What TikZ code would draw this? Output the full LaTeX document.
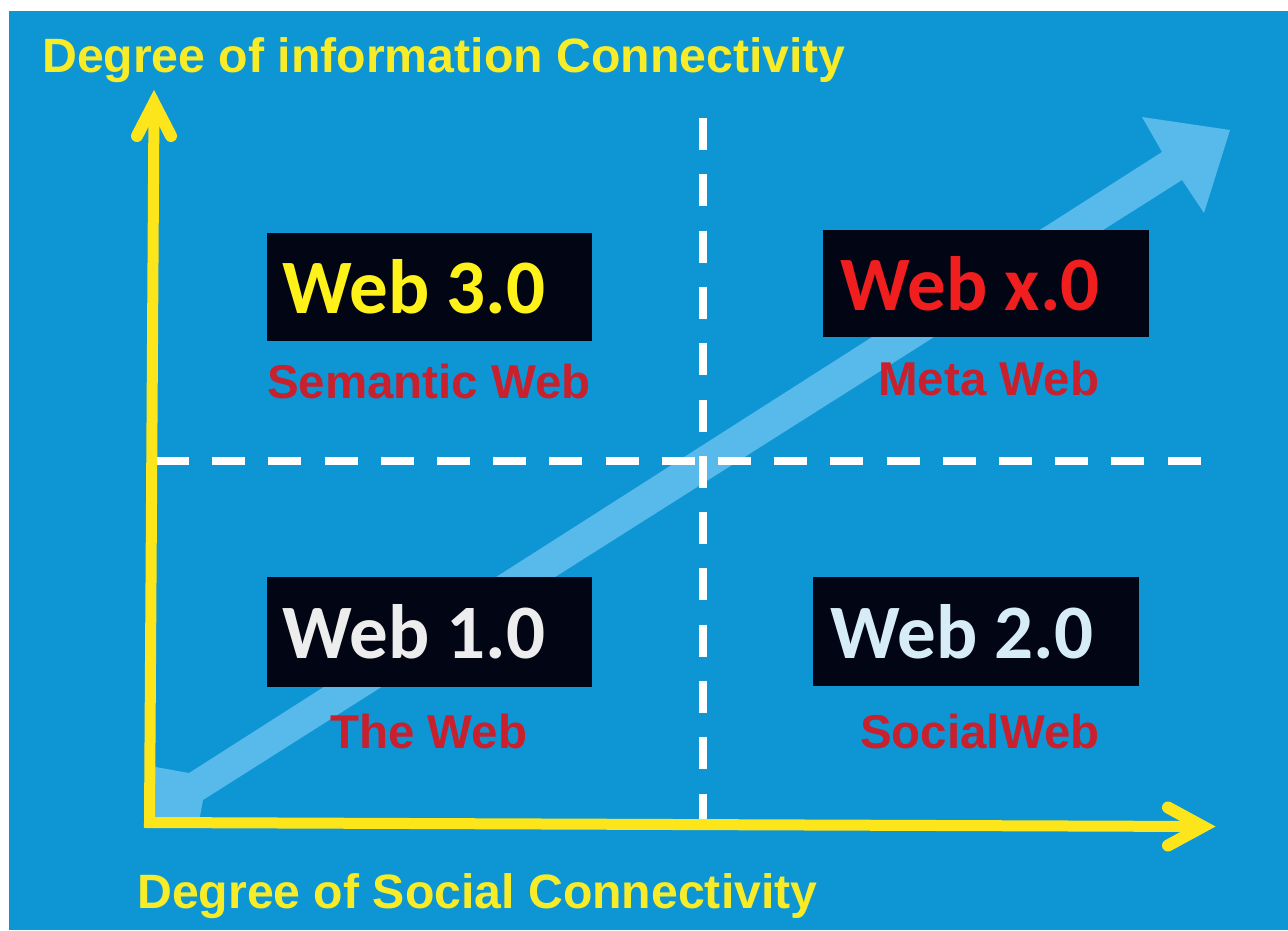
\documentclass[tikz,border=0pt]{standalone}
\usepackage{fontspec}
\newfontfamily\arialb{Liberation Sans}[BoldFont={Liberation Sans Bold}]
\newfontfamily\calib{Carlito}[BoldFont={Carlito Bold}]
\usetikzlibrary{calc}
\definecolor{bgblue}{HTML}{0E96D4}
\definecolor{bandblue}{HTML}{58B9EB}
\definecolor{axisyellow}{HTML}{FDE51C}
\definecolor{titleyellow}{HTML}{F8EC28}
\definecolor{labelred}{HTML}{C8202D}
\definecolor{brightred}{HTML}{F01E1E}
\definecolor{webyellow}{HTML}{FFF21A}
\definecolor{webwhite}{HTML}{EDEDED}
\definecolor{webpale}{HTML}{D6ECF6}
\definecolor{boxblack}{HTML}{020614}
\tikzset{
  title/.style={anchor=base west, inner sep=0pt, text=titleyellow, font=\arialb\bfseries\fontsize{48.2}{50}\selectfont},
  label/.style={anchor=base west, inner sep=0pt, text=labelred, font=\arialb\bfseries\fontsize{47.5}{50}\selectfont},
  webbox/.style={fill=boxblack, draw=none, minimum width=325pt, minimum height=108pt, inner sep=0pt, anchor=north west},
  webtext/.style={anchor=base west, inner sep=0pt, font=\calib\bfseries\fontsize{77}{80}\selectfont},
  axisline/.style={draw=axisyellow, line width=11pt, line join=miter},
  axishead/.style={draw=axisyellow, line width=12pt, line cap=round, line join=miter},
  divider/.style={draw=white, line width=8.5pt},
}
\begin{document}
\begin{tikzpicture}[x=1pt,y=-1pt]
\useasboundingbox (0,0) rectangle (1288,930);
\fill[bgblue] (9,11) rectangle (1288,930);
% light blue diagonal double arrow
\fill[bandblue] (1230,130) -- (1204,213) -- (1182,180) -- (203,800) -- (199,822) -- (150,822) -- (150,766) -- (189,773) -- (1162,152) -- (1142,117) -- cycle;
% dashed dividers
\coordinate (vtop) at (703,118);
\coordinate (vbot) at (703,822);
\coordinate (hleft) at (156,461);
\coordinate (hright) at (1201,461);
\draw[divider, dash pattern=on 32pt off 24.3pt] (vtop) -- (vbot);
\draw[divider, line width=8.5pt, dash pattern=on 33pt off 23.2pt] (hleft) -- (hright);
% boxes
\node[webbox] (box3) at (267,233) {};
\node[webbox, minimum width=326pt, minimum height=107pt] (boxx) at (823,230) {};
\node[webbox, minimum height=110pt] (box1) at (267,577) {};
\node[webbox, minimum width=326pt, minimum height=109pt] (box2) at (813,577) {};
\node[webtext, text=webyellow] (t3) at (282,313) {Web 3.0};
\node[webtext, text=brightred] (tx) at (840,310) {Web x.0};
\node[webtext, text=webwhite] (t1) at (282,658) {Web 1.0};
\node[webtext, text=webpale] (t2) at (830,658) {Web 2.0};
% labels
\node[label] (l3) at (267,398) {Semantic Web};
\node[label] (lx) at (878,395) {Meta Web};
\node[label] (l1) at (330,748) {The Web};
\node[label] (l2) at (860,748) {SocialWeb};
% axes
\coordinate (O) at (149.5,822.5);
\coordinate (Ytip) at (154,103);
\coordinate (Xtip) at (1203,826.5);
\draw[axisline] (Ytip) -- (O) -- (Xtip);
\draw[axishead] ($(Ytip)+(-17,33)$) -- (Ytip) -- ($(Ytip)+(17,33)$);
\draw[axishead] ($(Xtip)+(-35,-19)$) -- (Xtip) -- ($(Xtip)+(-35,19)$);
% titles
\node[title] (ytitle) at (42,72) {Degree of information Connectivity};
\node[title] (xtitle) at (137,908) {Degree of Social Connectivity};
\end{tikzpicture}
\end{document}
